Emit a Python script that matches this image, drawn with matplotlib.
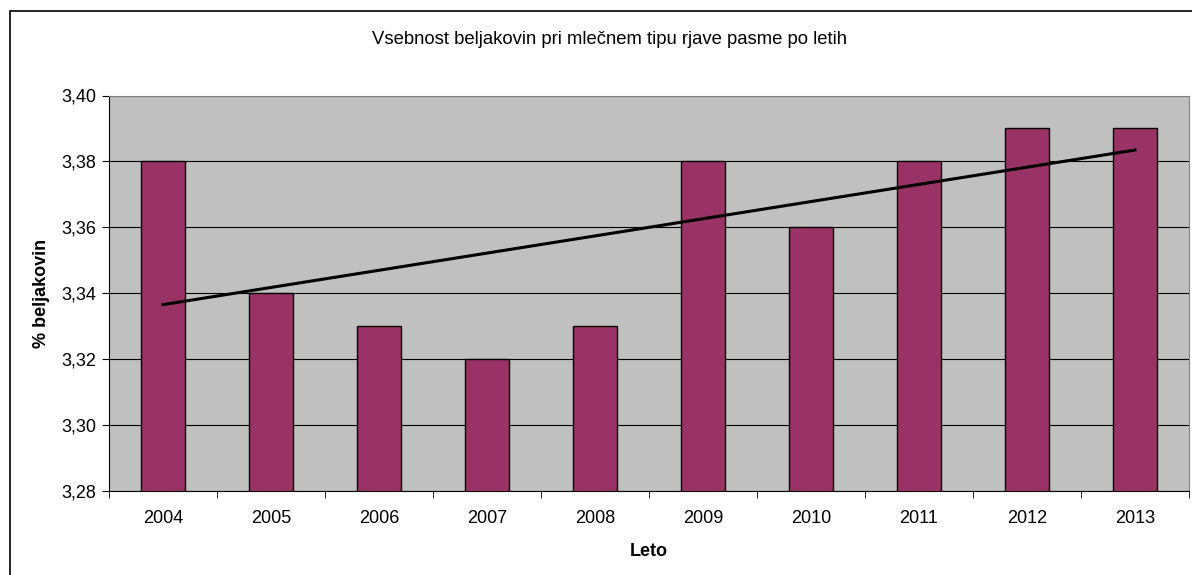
import numpy as np
import matplotlib.pyplot as plt
from matplotlib.patches import Rectangle
from matplotlib.ticker import FuncFormatter, MultipleLocator

plt.rcParams['font.family'] = ['Liberation Sans', 'DejaVu Sans']

leta = ['2004', '2005', '2006', '2007', '2008', '2009', '2010', '2011', '2012', '2013']
beljakovine = [3.38, 3.34, 3.33, 3.32, 3.33, 3.38, 3.36, 3.38, 3.39, 3.39]

fig = plt.figure(figsize=(11.92, 5.75), dpi=100)
ax = fig.add_axes([109 / 1192, 1 - 491 / 575, 1080 / 1192, (491 - 95.5) / 575])

x = np.arange(len(leta))
ax.set_facecolor('#c0c0c0')
ax.bar(x, beljakovine, width=0.4, color='#993366', edgecolor='black', linewidth=1, zorder=3)

# linearni trend
k, n = np.polyfit(x, beljakovine, 1)
ax.plot(x, k * x + n, color='black', linewidth=2.2, zorder=4)

ax.set_ylim(3.28, 3.40)
ax.set_xlim(-0.5, len(leta) - 0.5)
ax.yaxis.set_major_locator(MultipleLocator(0.02))
ax.yaxis.set_major_formatter(FuncFormatter(lambda v, p: f'{v:.2f}'.replace('.', ',')))
ax.grid(axis='y', color='black', linewidth=0.8, zorder=1)

ax.set_xticks(x)
ax.set_xticklabels(leta)
ax.set_xticks(np.arange(-0.5, len(leta)), minor=True)
ax.tick_params(axis='x', which='major', length=0, pad=14, labelsize=13)
ax.tick_params(axis='x', which='minor', length=5, direction='out')
ax.tick_params(axis='y', length=5, direction='out', labelsize=13, pad=4)

for s in ['top', 'right']:
    ax.spines[s].set_color('#808080')
for s in ['left', 'bottom']:
    ax.spines[s].set_color('black')

ax.set_xlabel('Leto', fontsize=13, fontweight='bold', labelpad=11)
ax.set_ylabel('% beljakovin', fontsize=13, fontweight='bold', labelpad=8)
fig.text(610 / 1192, 1 - 40 / 575, 'Vsebnost beljakovin pri mlečnem tipu rjave pasme po letih',
         ha='center', va='center', fontsize=13.3)

fig.patches.append(Rectangle((9.5 / 1192, -0.05), 1.1, 1 - 11 / 575 + 0.05,
                             transform=fig.transFigure, fill=False,
                             edgecolor='black', linewidth=1.2))

fig.savefig('out.png', dpi=100)
